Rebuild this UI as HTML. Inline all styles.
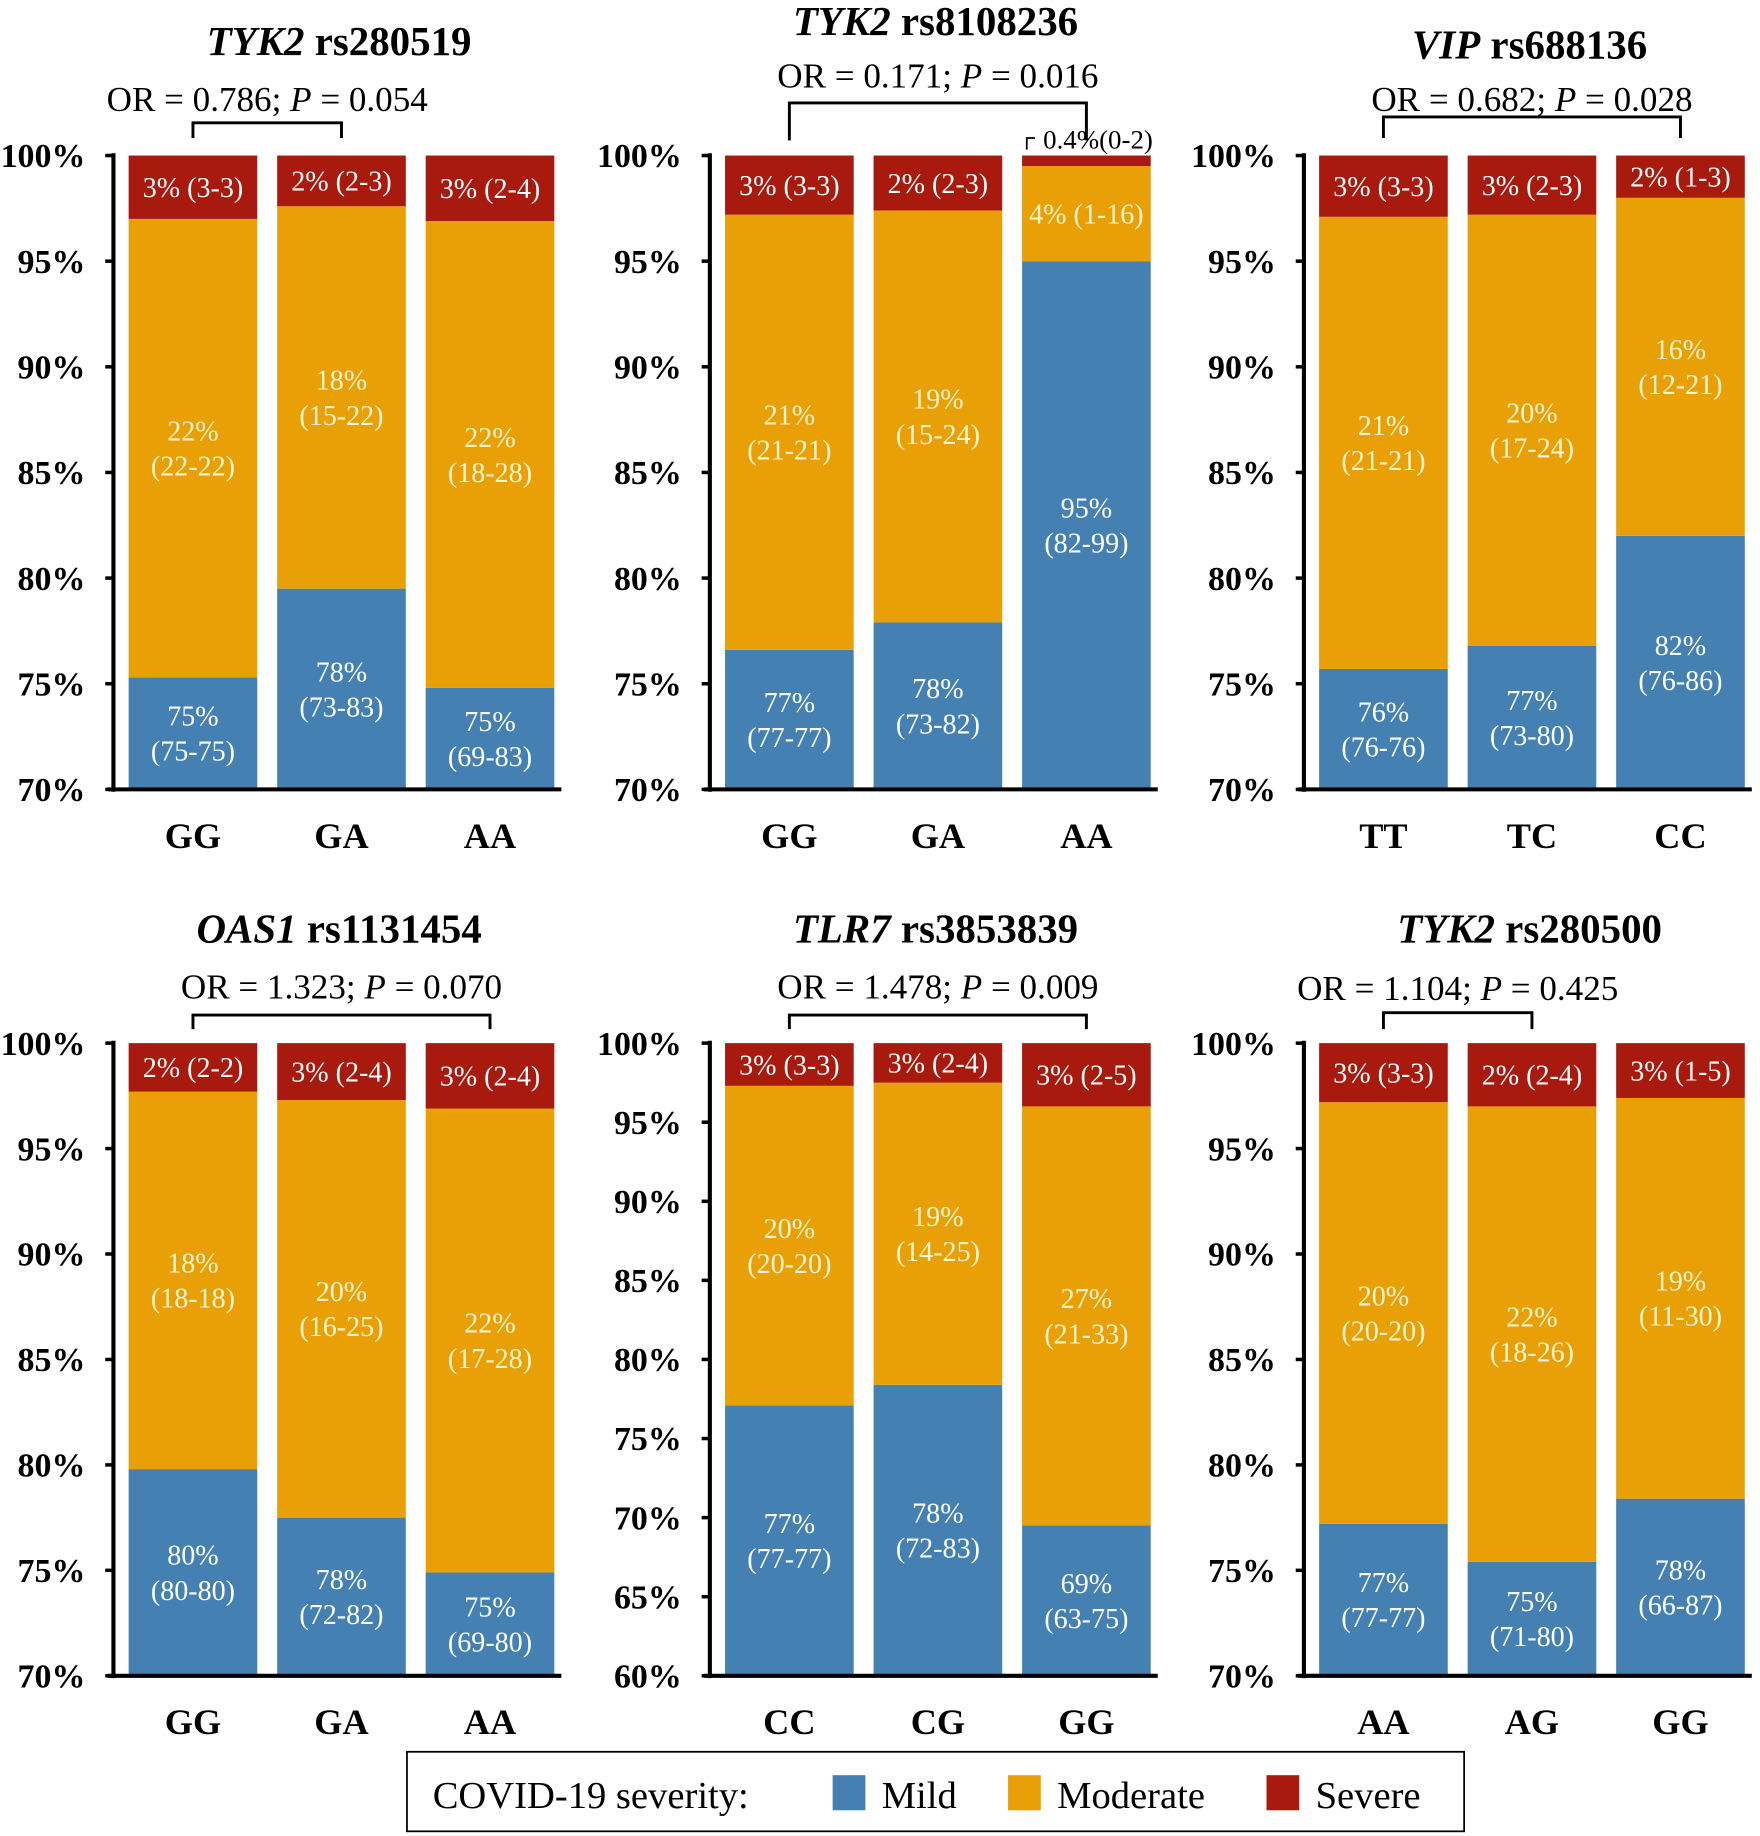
<!DOCTYPE html>
<html><head><meta charset="utf-8">
<style>
html,body{margin:0;padding:0;background:#fff;}
svg{display:block;}
text{font-family:"Liberation Serif",serif;}
</style></head>
<body>
<svg id="chart" width="1760" height="1836" viewBox="0 0 1505 1570" xmlns="http://www.w3.org/2000/svg"></svg>
<script>
// ---- data ----
const panelTitlesGene = ["TYK2","TYK2","VIP","OAS1","TLR7","TYK2"];
const panelTitlesSnp = ["rs280519","rs8108236","rs688136","rs1131454","rs3853839","rs280500"];
const orValues = ["0.786","0.171","0.682","1.323","1.478","1.104"];
const pValues = ["0.054","0.016","0.028","0.070","0.009","0.425"];
const genotypes = [["GG","GA","AA"],["GG","GA","AA"],["TT","TC","CC"],["GG","GA","AA"],["CC","CG","GG"],["AA","AG","GG"]];
const mildPct = [[75.3,79.5,74.8],[76.6,77.9,95.0],[75.7,76.8,82.0],[79.8,77.5,74.9],[77.1,78.4,69.5],[77.2,75.4,78.4]];
const moderatePct = [[21.7,18.1,22.1],[20.6,19.5,4.5],[21.4,20.4,16.0],[17.9,19.8,22.0],[20.2,19.1,26.5],[20.0,21.6,19.0]];
const mildLabels = [["75%\n(75-75)","78%\n(73-83)","75%\n(69-83)"],["77%\n(77-77)","78%\n(73-82)","95%\n(82-99)"],["76%\n(76-76)","77%\n(73-80)","82%\n(76-86)"],["80%\n(80-80)","78%\n(72-82)","75%\n(69-80)"],["77%\n(77-77)","78%\n(72-83)","69%\n(63-75)"],["77%\n(77-77)","75%\n(71-80)","78%\n(66-87)"]];
const moderateLabels = [["22%\n(22-22)","18%\n(15-22)","22%\n(18-28)"],["21%\n(21-21)","19%\n(15-24)","4% (1-16)"],["21%\n(21-21)","20%\n(17-24)","16%\n(12-21)"],["18%\n(18-18)","20%\n(16-25)","22%\n(17-28)"],["20%\n(20-20)","19%\n(14-25)","27%\n(21-33)"],["20%\n(20-20)","22%\n(18-26)","19%\n(11-30)"]];
const severeLabels = [["3% (3-3)","2% (2-3)","3% (2-4)"],["3% (3-3)","2% (2-3)",""],["3% (3-3)","3% (2-3)","2% (1-3)"],["2% (2-2)","3% (2-4)","3% (2-4)"],["3% (3-3)","3% (2-4)","3% (2-5)"],["3% (3-3)","2% (2-4)","3% (1-5)"]];
const yMins = [70,70,70,70,60,70];
const bracketPairs = [[0,1],[0,2],[0,2],[0,2],[0,2],[0,1]];

// ---- layout ----
const NS="http://www.w3.org/2000/svg";
const svg=document.getElementById('chart');
const C={mild:"#4580b3",mod:"#e9a007",sev:"#a8190e"};
const colX=[97,607,1115], rowTop=[133,892], rowBot=[675,1433];
const titleY=[[47,30,50],[806,806,806]];
const orY=[[95,75,95],[854,854,855]];
const brY=[[105,88,100],[868,868,866]];
const brBot=[[118,120,118],[880,880,880]];
function el(tag,attrs,parent){const e=document.createElementNS(NS,tag);for(const k in attrs)e.setAttribute(k,attrs[k]);(parent||svg).appendChild(e);return e;}
function label(g,txt,cx,cy,size,fill){
  const lines=txt.split("\n");const lh=30;
  lines.forEach((l,i)=>{const t=el('text',{x:cx,y:cy+(i-(lines.length-1)/2)*lh+size*0.35,'font-size':size,fill:fill,'text-anchor':'middle'},g);t.textContent=l;
  
  });
}
for(let p=0;p<6;p++){
  const r=Math.floor(p/3),c=p%3;
  const ax=colX[c],top=rowTop[r],bot=rowBot[r],ymin=yMins[p];
  const g=el('g',{});
  
  
  const y=v=>bot-(v-ymin)/(100-ymin)*(bot-top);
  const barX=i=>ax+13+i*127, bw=110;
  const cx=i=>barX(i)+bw/2;
  for(let i=0;i<3;i++){
    const m=mildPct[p][i], mo=m+moderatePct[p][i];
    const r1=el('rect',{x:barX(i),y:y(m),width:bw,height:bot-y(m),fill:C.mild},g);
    
    
    const r2=el('rect',{x:barX(i),y:y(mo),width:bw,height:y(m)-y(mo),fill:C.mod},g);
    
    
    const r3=el('rect',{x:barX(i),y:top,width:bw,height:y(mo)-top,fill:C.sev},g);
    
    
    label(g,mildLabels[p][i],cx(i),(y(m)+bot)/2,24,"#fff");
    label(g,moderateLabels[p][i],cx(i),(y(mo)+y(m))/2,24,"#fff5d0");
    if(severeLabels[p][i]) label(g,severeLabels[p][i],cx(i),(top+y(mo))/2,24,"#fff");
    const gl=el('text',{x:cx(i),y:bot+50,'font-size':31,'font-weight':'bold','text-anchor':'middle'},g);
    gl.textContent=genotypes[p][i];
    
    
  }
  if(p===1){
    el('path',{d:`M${cx(2)-51} 128 V118 H${cx(2)-44}`,stroke:'#000','stroke-width':1.5,fill:'none'},g);
    const t=el('text',{x:cx(2)-37,y:127,'font-size':23},g);t.textContent="0.4%(0-2)";
    
    
  }
  // axes
  el('line',{x1:ax,y1:top-2,x2:ax,y2:bot+2,stroke:'#000','stroke-width':3.5},g);
  el('line',{x1:ax-5,y1:bot,x2:ax+383,y2:bot,stroke:'#000','stroke-width':3.5},g);
  for(let v=ymin;v<=100;v+=5){
    el('line',{x1:ax-7,y1:y(v),x2:ax,y2:y(v),stroke:'#000','stroke-width':3},g);
    const t=el('text',{x:ax-24,y:y(v)+10,'font-size':29,'font-weight':'bold','text-anchor':'end'},g);
    t.textContent=v+"%";
    
    
  }
  // title
  const tt=el('text',{x:ax+193,y:titleY[r][c],'font-size':35,'font-weight':'bold','text-anchor':'middle'},g);
  
  
  const ts=el('tspan',{'font-style':'italic'},tt);ts.textContent=panelTitlesGene[p];
  const ts2=el('tspan',{},tt);ts2.textContent=" "+panelTitlesSnp[p];
  // bracket and OR
  const [a,b]=bracketPairs[p];
  el('path',{d:`M${cx(a)} ${brBot[r][c]} V${brY[r][c]} H${cx(b)} V${brBot[r][c]}`,stroke:'#000','stroke-width':2.5,fill:'none'},g);
  const ot=el('text',{x:(cx(a)+cx(b))/2,y:orY[r][c],'font-size':30,'text-anchor':'middle'},g);
  
  
  const o1=el('tspan',{},ot);o1.textContent="OR = "+orValues[p]+"; ";
  const o2=el('tspan',{'font-style':'italic'},ot);o2.textContent="P";
  const o3=el('tspan',{},ot);o3.textContent=" = "+pValues[p];
}
// legend
const lg=el('g',{});


el('rect',{x:348,y:1498,width:904,height:68,fill:'#fff',stroke:'#000','stroke-width':1.5},lg);
const lt=el('text',{x:370,y:1546,'font-size':33},lg);lt.textContent="COVID-19 severity:";
const legItems=[["Mild",C.mild,712],["Moderate",C.mod,862],["Severe",C.sev,1083]];
legItems.forEach(([n,col,x])=>{
  const sw=el('rect',{x:x,y:1518,width:28,height:30,fill:col},lg);
  
  
  const t=el('text',{x:x+42,y:1546,'font-size':33},lg);t.textContent=n;
  
  
});
</script>
</body></html>
